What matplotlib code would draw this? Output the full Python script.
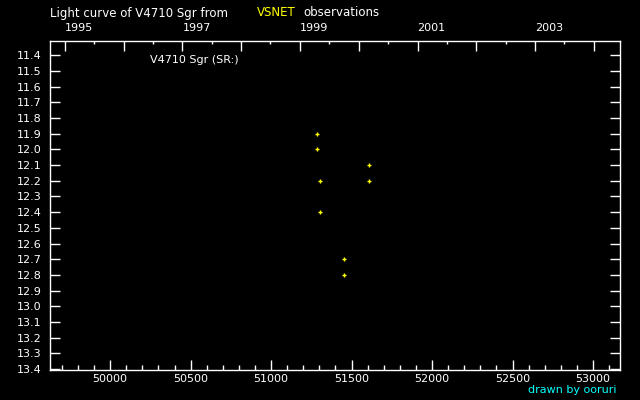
import datetime
import matplotlib
matplotlib.use("Agg")
import matplotlib.pyplot as plt

# observations (MJD, visual magnitude)
mjd = [51286, 51286, 51305, 51305, 51454, 51454, 51609, 51609]
mag = [11.9, 12.0, 12.2, 12.4, 12.7, 12.8, 12.1, 12.2]

mjd_ticks = [50000, 50500, 51000, 51500, 52000, 52500, 53000]
mag_ticks = [round(11.4 + 0.1 * i, 1) for i in range(21)]
years = list(range(1995, 2005))
year_labels = ["1995", "", "1997", "", "1999", "", "2001", "", "2003", ""]

star = "V4710 Sgr"
var_type = "SR:"


def year_to_mjd(y, m=1, d=1):
    return (datetime.date(y, m, d) - datetime.date(1858, 11, 17)).days


fg = "white"
fs = 8
plt.rcParams["font.family"] = "DejaVu Sans"

fig = plt.figure(figsize=(6.4, 4.0), dpi=100)
fig.patch.set_facecolor("black")
ax = fig.add_axes([50 / 640, 1 - 370 / 400, 570 / 640, 329 / 400])
ax.set_facecolor("black")

ax.plot(mjd, mag, linestyle="none", marker="+", color="#ffff00",
        markersize=3, markeredgewidth=1)

ax.set_xlim(49626, 53168)
ax.set_ylim(13.406, 11.309)

for s in ax.spines.values():
    s.set_color(fg)
    s.set_linewidth(1)

ax.set_xticks(mjd_ticks)
ax.set_xticklabels([str(v) for v in mjd_ticks])
ax.set_xticks(range(49700, 53168, 100), minor=True)
ax.set_yticks(mag_ticks)
ax.set_yticklabels(["%.1f" % v for v in mag_ticks])
ax.tick_params(axis="x", which="major", direction="in", length=7.5, width=1,
               colors=fg, labelsize=fs, pad=3, bottom=True, top=False)
ax.tick_params(axis="x", which="minor", direction="in", length=3.5, width=1,
               colors=fg, bottom=True, top=False)
ax.tick_params(axis="y", which="major", direction="in", length=7.5, width=1,
               colors=fg, labelsize=fs, pad=6, left=True, right=True)

# calendar year axis on top
top = ax.twiny()
top.set_xlim(ax.get_xlim())
top.set_xticks([year_to_mjd(y) for y in years])
top.set_xticklabels(year_labels, ha="left")
top.set_xticks([year_to_mjd(y, 7, 2) for y in years[:-1]], minor=True)
top.tick_params(axis="x", which="major", direction="in", length=7.5, width=1,
                colors=fg, labelsize=fs, pad=6)
top.tick_params(axis="x", which="minor", direction="in", length=2.5, width=1,
                colors=fg)
for s in top.spines.values():
    s.set_visible(False)

ax.text(100 / 570, 1 - 19 / 329, "%s (%s)" % (star, var_type), color=fg,
        fontsize=fs, transform=ax.transAxes, ha="left", va="center")

fig.text(50 / 640, 1 - 13 / 400, "Light curve of %s from" % star, color=fg,
         fontsize=fs + 0.5, ha="left", va="center")
fig.text(257 / 640, 1 - 13 / 400, "VSNET", color="#ffff00",
         fontsize=fs + 0.5, ha="left", va="center")
fig.text(303 / 640, 1 - 13 / 400, "observations", color=fg,
         fontsize=fs + 0.5, ha="left", va="center")
fig.text(617 / 640, 1 - 390 / 400, "drawn by ooruri", color="#00ffff",
         fontsize=fs, ha="right", va="center")

fig.savefig("out.png", dpi=100, facecolor="black")
